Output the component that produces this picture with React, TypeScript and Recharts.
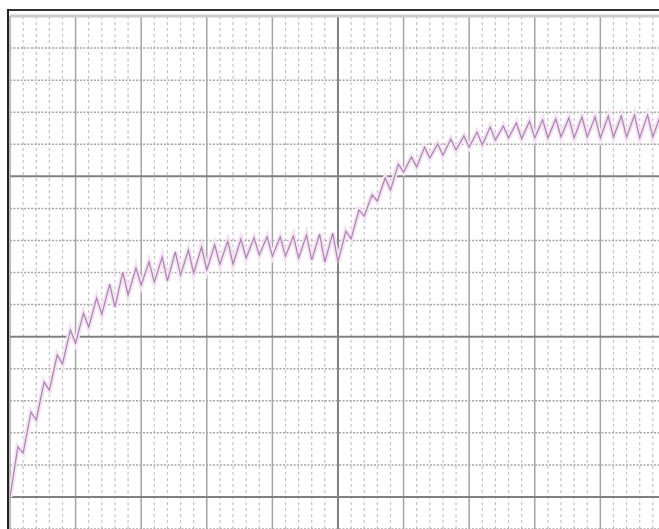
import { Line, LineChart, ReferenceLine, XAxis, YAxis } from "recharts";

// trace values in grid divisions (x: minor division index, y: minor divisions above the bottom major line)
const troughs = [
  0, 1.37, 2.4, 3.33, 4.15, 4.8, 5.3, 5.7, 5.92, 6.3, 6.61, 6.7, 6.74, 6.92, 6.98, 7.08, 7.26, 7.26, 7.45, 7.55,
  7.51, 7.51, 7.45, 7.39, 7.33, 7.33, 8.05, 8.76, 9.23, 9.57, 10.13, 10.29, 10.57, 10.66, 10.82, 10.91, 10.98,
  11.13, 11.2, 11.17, 11.2, 11.2, 11.23, 11.2, 11.23, 11.2, 11.23, 11.23, 11.2, 11.23,
];
const peaks = [
  1.56, 2.65, 3.58, 4.43, 5.2, 5.73, 6.2, 6.64, 7.01, 7.14, 7.33, 7.48, 7.64, 7.7, 7.8, 7.86, 7.98, 8.04, 8.08,
  8.11, 8.11, 8.14, 8.17, 8.2, 8.23, 8.29, 8.95, 9.42, 9.95, 10.38, 10.6, 10.91, 11.01, 11.16, 11.26, 11.38,
  11.54, 11.57, 11.66, 11.72, 11.76, 11.79, 11.82, 11.85, 11.85, 11.88, 11.88, 11.91, 11.91, 11.91,
];
const peakOffset = 0.6;

const xGrid = Array.from({ length: 50 }, (_, i) => i);
const yGrid = Array.from({ length: 17 }, (_, i) => i - 1);

const data = troughs.flatMap((t, k) => [
  { x: k, v: t },
  { x: k + peakOffset, v: peaks[k] },
]);

export default function App() {
  return (
    <div style={{ position: "absolute", left: 0, top: 0, width: 659, height: 529, overflow: "hidden", background: "#fff" }}>
      <LineChart width={659} height={529} data={data} margin={{ top: 16, right: 0, left: 10, bottom: 0 }}>
        <XAxis dataKey="x" type="number" domain={[0, 49.47]} allowDataOverflow hide />
        <YAxis type="number" domain={[-1, 15]} allowDataOverflow hide />
        {xGrid.map((k) =>
          k % 5 === 0 ? (
            <ReferenceLine key={`x${k}`} x={k} stroke={k === 25 ? "#808080" : "#a4a4a4"} strokeWidth={k === 25 ? 2 : 1.5} />
          ) : (
            <ReferenceLine key={`x${k}`} x={k} stroke="#c4c4c4" strokeDasharray="3 3" strokeWidth={1.2} />
          )
        )}
        {yGrid.map((k) =>
          k === 15 ? (
            <ReferenceLine key={`y${k}`} y={k} stroke="#cccccc" strokeWidth={3} />
          ) : k % 5 === 0 ? (
            <ReferenceLine key={`y${k}`} y={k} stroke="#808080" strokeWidth={2} />
          ) : (
            <ReferenceLine key={`y${k}`} y={k} stroke="#a6a6a6" strokeDasharray="2 1.5" strokeWidth={1.5} />
          )
        )}
        <Line dataKey="v" type="linear" stroke="#f5e2f2" strokeWidth={5} dot={false} isAnimationActive={false} />
        <Line dataKey="v" type="linear" stroke="#a585ad" strokeWidth={1.2} dot={false} isAnimationActive={false} />
      </LineChart>
      <div style={{ position: "absolute", left: 7, top: 9, width: 652, height: 2, background: "#333" }} />
      <div style={{ position: "absolute", left: 7, top: 9, width: 2, height: 520, background: "#222" }} />
    </div>
  );
}
